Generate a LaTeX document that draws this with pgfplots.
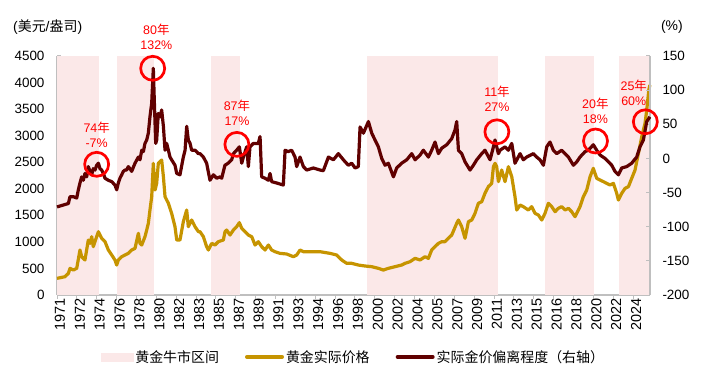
\documentclass[border=0pt]{standalone}
\usepackage{fontspec}
\setmainfont{Liberation Sans}
\newfontfamily\cjk{Noto Sans CJK SC}
\usepackage{pgfplots}
\usepackage{pgfplotstable}
\pgfplotsset{compat=1.18}
\definecolor{goldc}{RGB}{198,148,0}
\definecolor{darkr}{RGB}{96,0,0}
\definecolor{bullpink}{RGB}{251,232,232}
\definecolor{axgray}{RGB}{191,191,191}

\pgfplotstableread{
year gold
1971.0 313
1971.74 345
1972.05 407
1972.2 502
1972.51 470
1972.82 502
1973.12 847
1973.28 721
1973.43 690
1973.58 659
1973.89 1035
1974.05 972
1974.2 1098
1974.35 910
1974.66 1098
1974.82 1192
1975.12 1067
1975.43 1004
1975.74 847
1976.05 753
1976.35 659
1976.51 564
1976.66 659
1976.97 721
1977.28 753
1977.58 784
1977.89 847
1978.2 878
1978.51 1161
1978.66 972
1978.82 941
1979.12 1098
1979.28 1223
1979.43 1349
1979.58 1600
1979.74 1851
1979.89 2479
1980.05 1977
1980.2 2102
1980.35 2479
1980.66 2541
1980.82 2228
1980.97 1851
1981.28 1726
1981.58 1537
1981.89 1286
1982.05 1035
1982.35 1035
1982.66 1380
1982.97 1600
1983.12 1286
1983.43 1412
1983.74 1286
1984.05 1192
1984.2 1192
1984.51 1098
1984.81 910
1984.97 847
1985.28 972
1985.58 941
1985.89 1004
1986.35 1035
1986.51 1192
1986.66 1223
1986.97 1129
1987.28 1223
1987.58 1286
1987.83 1362
1988.05 1255
1988.35 1192
1988.66 1129
1988.97 1098
1989.28 941
1989.58 1004
1989.89 910
1990.2 847
1990.51 941
1990.81 847
1991.12 815
1991.58 784
1992.2 772
1992.81 721
1993.12 753
1993.43 847
1993.74 815
1994.35 815
1995.28 815
1996.2 784
1996.81 753
1997.28 659
1997.74 596
1998.2 596
1998.81 564
1999.43 546
2000.05 533
2000.66 502
2001.12 470
2001.58 502
2002.2 533
2002.81 564
2003.12 596
2003.58 627
2004.05 690
2004.51 659
2004.97 721
2005.28 690
2005.58 847
2005.89 910
2006.2 972
2006.51 1004
2006.81 1004
2007.12 1067
2007.43 1129
2007.89 1349
2008.05 1412
2008.35 1286
2008.66 1067
2008.97 1380
2009.28 1412
2009.58 1537
2009.89 1726
2010.2 1757
2010.5 1914
2010.81 2040
2011.12 2102
2011.28 2416
2011.43 2479
2011.58 2416
2011.74 2134
2012.04 2353
2012.35 2134
2012.66 2416
2012.97 2228
2013.27 1851
2013.43 1600
2013.74 1694
2014.04 1663
2014.5 1600
2014.81 1663
2015.12 1537
2015.43 1506
2015.74 1412
2016.04 1537
2016.35 1726
2016.66 1663
2016.97 1569
2017.27 1631
2017.58 1663
2017.89 1600
2018.2 1631
2018.5 1569
2018.81 1475
2019.27 1663
2019.58 1851
2019.89 1977
2020.2 2228
2020.5 2385
2020.81 2196
2021.12 2165
2021.43 2134
2021.74 2102
2022.04 2071
2022.35 2102
2022.66 1914
2022.81 1788
2023.12 1914
2023.43 2008
2023.74 2040
2024.04 2196
2024.35 2353
2024.66 2667
2024.97 2981
2025.27 3232
2025.43 3483
2025.62 3860
2025.72 3954
}\goldtab

\pgfplotstableread{
year dev
1971.0 -71
1972.05 -66
1972.2 -56
1972.51 -56
1972.82 -58
1972.97 -46
1973.12 -36
1973.28 -27
1973.43 -32
1973.58 -22
1973.74 -27
1973.89 -12
1974.05 -19
1974.2 -24
1974.35 -15
1974.51 -17
1974.66 -10
1974.82 -7
1974.97 -15
1975.12 -17
1975.28 -22
1975.43 -29
1975.74 -32
1976.05 -34
1976.35 -39
1976.51 -46
1976.66 -36
1976.81 -29
1976.97 -24
1977.12 -19
1977.28 -17
1977.43 -17
1977.58 -12
1977.74 -15
1977.89 -19
1978.2 -7
1978.51 2
1978.66 -2
1978.82 12
1978.97 10
1979.12 22
1979.28 27
1979.43 37
1979.58 61
1979.74 81
1979.89 132
1979.98 85
1980.11 22
1980.2 27
1980.35 66
1980.51 61
1980.66 71
1980.82 47
1980.97 12
1981.12 22
1981.28 12
1981.43 2
1981.58 -2
1981.89 -10
1982.05 -22
1982.35 -24
1982.66 2
1982.82 12
1982.97 47
1983.12 27
1983.28 22
1983.43 12
1983.74 12
1984.05 7
1984.2 7
1984.51 2
1984.81 -7
1985.12 -32
1985.43 -24
1985.74 -29
1986.05 -27
1986.2 -29
1986.5 -10
1986.8 -7
1987.12 -2
1987.28 7
1987.58 12
1987.83 17
1988.05 -7
1988.2 2
1988.51 17
1988.66 -12
1988.81 17
1989.12 22
1989.58 22
1989.74 32
1989.89 -27
1990.2 -29
1990.51 -32
1990.66 -22
1990.81 -34
1991.28 -36
1991.89 -39
1992.05 12
1992.35 10
1992.66 12
1992.97 2
1993.12 -12
1993.43 2
1993.74 -12
1994.05 -17
1994.66 -14
1995.28 -17
1995.58 -18
1996.05 2
1996.51 -2
1996.97 7
1997.43 -2
1997.89 -10
1998.2 -7
1998.51 -14
1998.81 -12
1998.97 46
1999.28 37
1999.74 54
2000.05 37
2000.35 27
2000.66 17
2000.97 0
2001.28 -10
2001.58 -7
2002.05 -27
2002.35 -14
2002.81 -7
2003.28 -2
2003.74 7
2004.05 -2
2004.51 5
2004.81 12
2005.28 2
2005.58 12
2005.89 24
2006.2 7
2006.51 15
2006.97 20
2007.43 29
2007.74 42
2007.89 54
2008.05 12
2008.35 7
2008.66 -5
2009.12 -17
2009.43 -10
2009.74 -2
2010.2 7
2010.5 12
2010.97 -2
2011.28 17
2011.43 27
2011.74 7
2011.89 12
2012.35 17
2012.66 12
2012.97 22
2013.27 -7
2013.74 7
2014.04 -2
2014.35 2
2014.97 7
2015.27 2
2015.58 -2
2015.89 -10
2016.2 17
2016.5 24
2016.81 12
2017.12 7
2017.58 12
2017.89 7
2018.2 2
2018.66 -10
2018.97 -5
2019.27 2
2019.74 10
2020.04 12
2020.5 20
2020.81 12
2021.12 5
2021.58 0
2021.89 -5
2022.2 -10
2022.5 -19
2022.81 -24
2023.12 -14
2023.58 -12
2024.04 -7
2024.5 2
2024.81 17
2025.12 27
2025.43 54
2025.72 61
}\devtab

\pgfplotsset{
  common/.style={
    at={(57bp,82bp)}, anchor=south west,
    scale only axis, width=593bp, height=239bp,
    xmin=1971, xmax=2025.73,
    /pgf/number format/assume math mode=true,
    /pgf/number format/1000 sep={},
    tick label style={font=\fontsize{13.5}{16}\selectfont, black},
    axis line style={-, draw=axgray, line width=1.2bp},
    x axis line style={-}, y axis line style={-},
    tick style={draw=axgray, line width=1bp},
    major tick length=4bp,
    tick align=inside,
  }
}

\begin{document}
\begin{tikzpicture}
\path[use as bounding box] (0bp,0bp) rectangle (717bp,377bp);
\begin{axis}[common,
  ymin=0, ymax=4500,
  axis x line*=bottom, axis y line*=left,
  ytick={0,500,...,4500},
  xtick={1971,1972.8333,1974.6667,1976.5,1978.3333,1980.1667,1982,1983.8333,1985.6667,1987.5,1989.3333,1991.1667,1993,1994.8333,1996.6667,1998.5,2000.3333,2002.1667,2004,2005.8333,2007.6667,2009.5,2011.3333,2013.1667,2015,2016.8333,2018.6667,2020.5,2022.3333,2024.1667},
  xticklabels={1971,1972,1974,1976,1978,1980,1982,1983,1985,1987,1989,1991,1993,1994,1996,1998,2000,2002,2004,2005,2007,2009,2011,2013,2015,2016,2018,2020,2022,2024},
  x tick style={yshift=-4bp},
  xticklabel style={rotate=90, anchor=east, yshift=-3bp, font=\fontsize{14.5}{16}\selectfont},
  yticklabel style={xshift=-9bp},
  clip=false,
]
\addplot[fill=bullpink, draw=none, forget plot] coordinates {(1971,4500) (1974.88,4500)} \closedcycle;
\addplot[fill=bullpink, draw=none, forget plot] coordinates {(1976.54,4500) (1979.95,4500)} \closedcycle;
\addplot[fill=bullpink, draw=none, forget plot] coordinates {(1985.21,4500) (1987.89,4500)} \closedcycle;
\addplot[fill=bullpink, draw=none, forget plot] coordinates {(1999.61,4500) (2011.70,4500)} \closedcycle;
\addplot[fill=bullpink, draw=none, forget plot] coordinates {(2016.04,4500) (2020.57,4500)} \closedcycle;
\addplot[fill=bullpink, draw=none, forget plot] coordinates {(2022.87,4500) (2025.73,4500)} \closedcycle;
\addplot[goldc, line width=3.2bp, line join=round, forget plot] table[x=year, y=gold] {\goldtab};
\node[anchor=west, font=\fontsize{14}{16}\selectfont, inner sep=0pt] at (axis description cs:-0.0742,1.1226) {({\cjk 美元}/{\cjk 盎司})};
\end{axis}
\begin{axis}[common,
  ymin=-200, ymax=150,
  axis x line=none, axis y line*=right,
  ytick={-200,-150,...,150},
  yticklabel style={xshift=9bp},
  clip=false,
  legend columns=3,
  legend style={draw=none, fill=none, at={(0.5,-0.259)}, anchor=center,
    font=\fontsize{14}{16}\selectfont,
    /tikz/every even column/.append style={column sep=24bp}},
]
\addlegendimage{legend image code/.code={\fill[bullpink] (0bp,-4bp) rectangle (32bp,4bp);}}
\addlegendentry{{\cjk 黄金牛市区间}}
\addlegendimage{legend image code/.code={\draw[goldc, line width=4bp, line cap=round] (0bp,0bp) -- (35bp,0bp);}}
\addlegendentry{{\cjk 黄金实际价格}}
\addplot[darkr, line width=3.2bp, line join=round,
  legend image code/.code={\draw[darkr, line width=4bp, line cap=round] (0bp,0bp) -- (35bp,0bp);}]
  table[x=year, y=dev] {\devtab};
\addlegendentry{{\cjk 实际金价偏离程度（右轴）}}
\addplot[only marks, mark=o, mark size=12bp, mark options={draw=red, line width=2.7bp}, forget plot]
  coordinates {(1974.66,-8.6) (1979.83,132) (1987.6,20.6) (2011.6,39) (2020.7,25.5) (2025.3,53.7)};
\begin{scope}[every node/.style={red, align=center, font=\fontsize{12.5}{15}\selectfont, inner sep=0pt}]
\node at (axis cs:1974.66,35) {74{\cjk 年}\\-7\%};
\node at (axis cs:1980.17,177.7) {80{\cjk 年}\\132\%};
\node at (axis cs:1987.61,67) {87{\cjk 年}\\17\%};
\node at (axis cs:2011.61,87.7) {11{\cjk 年}\\27\%};
\node at (axis cs:2020.69,70) {20{\cjk 年}\\18\%};
\node at (axis cs:2024.23,96.5) {25{\cjk 年}\\60\%};
\end{scope}
\node[font=\fontsize{14}{16}\selectfont, inner sep=0pt] at (axis description cs:1.037,1.1226) {(\%)};
\end{axis}
\end{tikzpicture}
\end{document}
